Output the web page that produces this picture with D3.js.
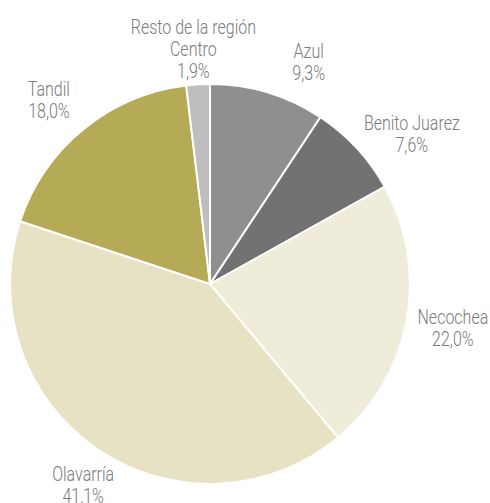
<!doctype html>
<html>
<head>
    <meta charset="UTF-8">
    <title>pie</title>
    <script src="https://d3js.org/d3.v7.min.js"></script>
    <style>
        body { margin: 0; background: #fff; }
        text { font-family: Roboto, "DejaVu Sans Condensed", sans-serif; font-weight: 300; }
    </style>
</head>
<body>
<svg width="490" height="503"></svg>
<script>
    var names = [["Azul"], ["Benito Juarez"], ["Necochea"], ["Olavarría"], ["Tandil"], ["Resto de la región", "Centro"]];
    var values = [9.3, 7.6, 22.0, 41.1, 18.0, 1.9];
    var labels = ["9,3%", "7,6%", "22,0%", "41,1%", "18,0%", "1,9%"];

    var colors = ["#8f8f8f", "#727272", "#f0ecda", "#e8e2c5", "#b5aa55", "#bebebe"];
    var nudge = [[28, 13], [22, 16], [2, -1], [11, -2], [-6, 6], [-2, 10]];

    var cx = 210, cy = 284, r = 200, lineH = 22;
    var svg = d3.select("svg");
    var g = svg.append("g").attr("transform", "translate(" + cx + "," + cy + ")");

    var pie = d3.pie().sort(null).value(function(d) { return d; });
    var arcs = pie(values);
    var arc = d3.arc().innerRadius(0).outerRadius(r);
    var labelArc = d3.arc().innerRadius(245).outerRadius(245);

    g.selectAll("path")
        .data(arcs)
        .enter().append("path")
        .attr("d", arc)
        .attr("fill", function(d, i) { return colors[i]; })
        .attr("stroke", "#fff")
        .attr("stroke-width", 2);

    // condensed look: squeeze the text horizontally
    var t = g.selectAll("text.lbl")
        .data(arcs)
        .enter().append("text")
        .attr("class", "lbl")
        .attr("text-anchor", "middle")
        .attr("font-size", "20px")
        .attr("fill", "#7a7a7a")
        .attr("transform", function(d, i) {
            var c = labelArc.centroid(d);
            return "translate(" + (c[0] + nudge[i][0]) + "," + (c[1] + nudge[i][1]) + ") scale(0.8,1)";
        });

    t.each(function(d, i) {
        var lines = names[i].concat([labels[i]]);
        var y0 = -(lines.length - 1) * lineH / 2 + 7;
        var el = d3.select(this);
        lines.forEach(function(s, j) {
            el.append("tspan").attr("x", 0).attr("y", y0 + j * lineH).text(s);
        });
    });
</script>
</body>
</html>
